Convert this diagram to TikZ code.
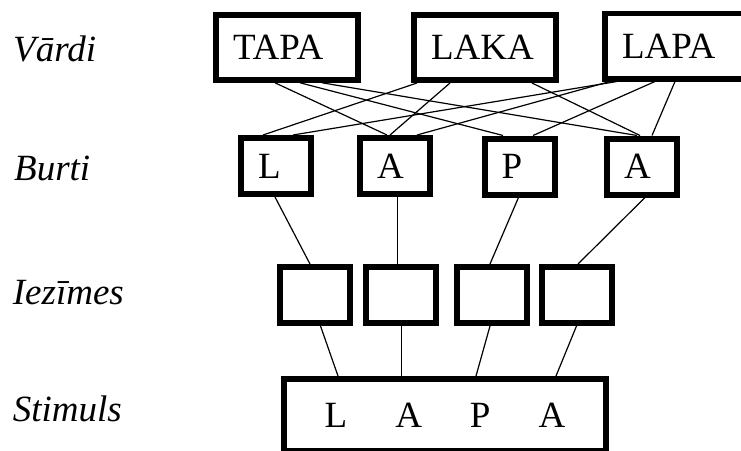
\documentclass[tikz,border=0pt]{standalone}
\usepackage{fontspec}
\setmainfont{Liberation Serif}[ItalicFont={Liberation Serif Italic}]
\newfontfamily\levelfont{Liberation Serif Italic}
\begin{document}
\begin{tikzpicture}[x=1pt, y=-1pt,
  every node/.style={font=\fontsize{37}{40}\selectfont},
  wordbox/.style={draw, line width=5.7pt, minimum width=142.3pt, minimum height=65.3pt,
    inner xsep=17.15pt, inner ysep=0pt, text width=108pt, align=left},
  letterbox/.style={draw, line width=6pt, minimum width=70pt, minimum height=56pt,
    inner xsep=17pt, inner ysep=0pt, text width=36pt, align=left},
  markbox/.style={draw, line width=6pt, minimum width=70pt, minimum height=56pt, inner sep=0pt},
  stimbox/.style={draw, line width=6pt, minimum width=322.6pt, minimum height=72pt, inner sep=0pt},
  level/.style={anchor=base west, inner sep=0pt, font=\levelfont\fontsize{37}{40}\selectfont},
  link/.style={line width=1.2pt}
]
\useasboundingbox (0,0) rectangle (741,450);
\fill[white] (0,0) rectangle (741,450);

% level names
\node[level] (lv) at (13,61.7)   {Vārdi};
\node[level] (lb) at (14,180)    {Burti};
\node[level] (li) at (12.7,304)  {Iezīmes};
\node[level] (ls) at (12.7,421.7){Stimuls};

% words
\node[wordbox] (tapa) at (287,47.3) {TAPA};
\node[wordbox] (laka) at (485,47.5) {LAKA};
\node[wordbox] (lapa) at (676,46)   {LAPA};

% letters
\node[letterbox] (bL)  at (276,166)   {L};
\node[letterbox] (bA)  at (395,166)   {A};
\node[letterbox] (bP)  at (519.5,166.5) {P};
\node[letterbox] (bA2) at (642,166.5) {A};

% features
\node[markbox] (i1) at (314.5,295) {};
\node[markbox] (i2) at (400.5,295) {};
\node[markbox] (i3) at (491.5,295) {};
\node[markbox] (i4) at (577,295)   {};

% stimulus
\node[stimbox] (s) at (445,415) {L\hspace{48pt}A\hspace{48pt}P\hspace{48pt}A};

% words to letters
\draw[link] ([xshift=-12pt]tapa.south) -- ([xshift=-8pt]bA.north);
\draw[link] ([xshift=13pt]tapa.south)  -- ([xshift=-16.5pt]bP.north);
\draw[link] ([xshift=35pt]tapa.south)  -- ([xshift=-5pt]bA2.north);
\draw[link] ([xshift=-68pt]laka.south) -- ([xshift=-13pt]bL.north);
\draw[link] ([xshift=-35pt]laka.south) -- ([xshift=-5pt]bA.north);
\draw[link] ([xshift=47pt]laka.south)  -- ([xshift=-2pt]bA2.north);
\draw[link] ([xshift=-59pt]lapa.south) -- ([xshift=17pt]bL.north);
\draw[link] ([xshift=-66pt]lapa.south) -- ([xshift=22pt]bA.north);
\draw[link] ([xshift=-21pt]lapa.south) -- ([xshift=13.5pt]bP.north);
\draw[link] ([xshift=-1pt]lapa.south)  -- ([xshift=10pt]bA2.north);

% letters to features
\draw[link] ([xshift=-1pt]bL.south)  -- ([xshift=-4.5pt]i1.north);
\draw[link] ([xshift=2.5pt]bA.south) -- ([xshift=-3pt]i2.north);
\draw[link] ([xshift=-1pt]bP.south)  -- ([xshift=-1.5pt]i3.north);
\draw[link] ([xshift=3pt]bA2.south)  -- ([xshift=1pt]i4.north);

% features to stimulus
\draw[link] ([xshift=6pt]i1.south)    -- ([xshift=-107pt]s.north);
\draw[link] ([xshift=1pt]i2.south)    -- ([xshift=-43.5pt]s.north);
\draw[link] ([xshift=-1.5pt]i3.south) -- ([xshift=31pt]s.north);
\draw[link] ([xshift=-0.5pt]i4.south) -- ([xshift=111pt]s.north);
\end{tikzpicture}
\end{document}
